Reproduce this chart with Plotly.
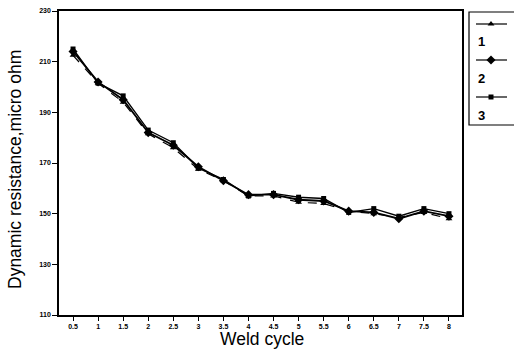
import plotly.graph_objects as go

weld_cycle = [0.5, 1, 1.5, 2, 2.5, 3, 3.5, 4, 4.5, 5, 5.5, 6, 6.5, 7, 7.5, 8]
series_1 = [212.5, 201.5, 194.0, 181.5, 176.0, 167.5, 163.0, 157.0, 157.0, 154.5, 154.0, 151.0, 150.0, 148.5, 150.5, 148.0]
series_2 = [214.0, 202.0, 195.0, 182.0, 177.0, 168.5, 163.0, 157.5, 157.5, 155.5, 155.0, 151.0, 150.5, 148.0, 151.0, 149.0]
series_3 = [215.0, 201.5, 196.5, 183.0, 178.0, 168.0, 163.5, 157.0, 158.0, 156.5, 156.0, 150.5, 152.0, 149.0, 152.0, 150.0]
series_names = ["1", "2", "3"]
y_ticks = [110, 130, 150, 170, 190, 210, 230]
x_tick_labels = ["0.5", "1", "1.5", "2", "2.5", "3", "3.5", "4", "4.5", "5", "5.5", "6", "6.5", "7", "7.5", "8"]

styles = [
    dict(symbol="triangle-up", size=6, dash="dash", width=1.2),
    dict(symbol="diamond", size=7, dash="solid", width=1.8),
    dict(symbol="square", size=5, dash="solid", width=1.4),
]

W, H = 514, 351
L, T, B = 59, 11, 36
plot_right = 462
paper_w = W - L
paper_h = H - T - B
FONT = "Liberation Sans, Arial"

def px(x):
    return (x - L) / paper_w

def py(y):
    return (H - B - y) / paper_h

fig = go.Figure()
for name, vals, st in zip(series_names, [series_1, series_2, series_3], styles):
    fig.add_trace(go.Scatter(
        x=weld_cycle, y=vals, mode="lines+markers", name=name, showlegend=False,
        line=dict(color="black", width=st["width"], dash=st["dash"]),
        marker=dict(symbol=st["symbol"], size=st["size"], color="black"),
        xaxis="x", yaxis="y",
    ))

# manual legend keys (symbol above label) in an overlay axis in pixel units
key_y = [24, 60, 97]
label_y = [42, 78, 115]
for name, st, ky in zip(series_names, styles, key_y):
    fig.add_trace(go.Scatter(
        x=[476, 507], y=[ky, ky], mode="lines", showlegend=False, hoverinfo="skip",
        line=dict(color="black", width=1.2), xaxis="x2", yaxis="y2",
    ))
    fig.add_trace(go.Scatter(
        x=[491], y=[ky], mode="markers", showlegend=False, hoverinfo="skip",
        marker=dict(symbol=st["symbol"], size=st["size"], color="black"),
        xaxis="x2", yaxis="y2",
    ))

annotations = []
for name, ly in zip(series_names, label_y):
    annotations.append(dict(
        x=476, y=ly, xref="x2", yref="y2", text="<b>" + name + "</b>", showarrow=False,
        xanchor="left", yanchor="middle",
        font=dict(family=FONT, size=13, color="black"),
    ))
annotations.append(dict(
    x=px(262), y=py(339), xref="paper", yref="paper", text="Weld cycle", showarrow=False,
    xanchor="center", yanchor="middle",
    font=dict(family=FONT, size=17.5, color="black"),
))
annotations.append(dict(
    x=px(15), y=py(170), xref="paper", yref="paper", text="Dynamic resistance,micro ohm",
    showarrow=False, textangle=-90, xanchor="center", yanchor="middle",
    font=dict(family=FONT, size=17.5, color="black"),
))

shapes = [dict(
    type="rect", xref="paper", yref="paper",
    x0=px(469), x1=px(530), y0=py(125), y1=py(12),
    line=dict(color="black", width=1.2), fillcolor="rgba(0,0,0,0)",
)]

fig.update_layout(
    width=W, height=H,
    margin=dict(l=L, r=0, t=T, b=B),
    paper_bgcolor="white", plot_bgcolor="white",
    showlegend=False,
    xaxis=dict(
        domain=[0, px(plot_right)], range=[0.22, 8.26],
        tickmode="array", tickvals=weld_cycle, ticktext=["<b>" + t + "</b>" for t in x_tick_labels],
        ticks="outside", ticklen=4, tickcolor="black", tickwidth=1,
        showgrid=False, zeroline=False, showline=True, linecolor="black", linewidth=1.5,
        mirror=True, tickfont=dict(family=FONT, size=7, color="black"),
        anchor="y",
    ),
    yaxis=dict(
        range=[110, 230], tickmode="array", tickvals=y_ticks,
        ticktext=["<b>" + str(v) + "</b>" for v in y_ticks],
        ticks="outside", ticklen=5, tickcolor="black", tickwidth=1,
        showgrid=False, zeroline=False, showline=True, linecolor="black", linewidth=1.5,
        mirror=True, tickfont=dict(family=FONT, size=7, color="black"),
        anchor="x",
    ),
    xaxis2=dict(domain=[px(469), 1], range=[469, 514], visible=False, anchor="y2"),
    yaxis2=dict(domain=[py(125), py(12)], range=[125, 12], visible=False, anchor="x2"),
    annotations=annotations,
    shapes=shapes,
)

fig.write_html("out.html")
